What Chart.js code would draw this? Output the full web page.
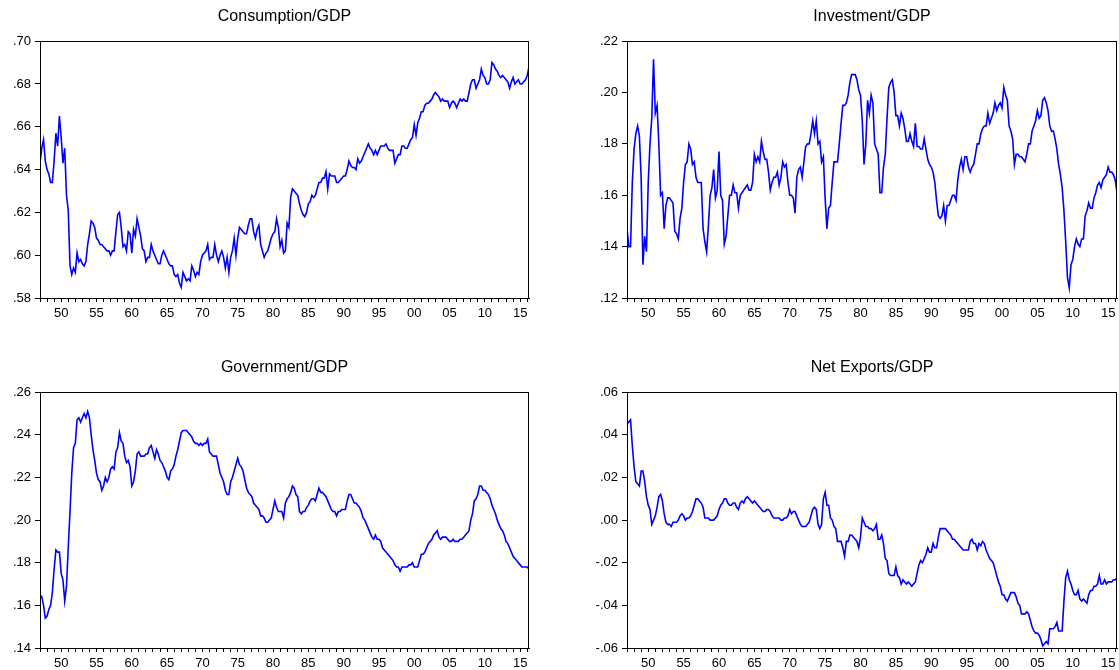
<!DOCTYPE html>
<html>
<head>
<meta charset="utf-8">
<script src="https://cdn.jsdelivr.net/npm/chart.js@4.4.0/dist/chart.umd.min.js"></script>
<style>
  html, body { margin: 0; padding: 0; background: #fff; overflow: hidden; }
  #wrap { position: relative; width: 1119px; height: 670px; overflow: hidden; }
  #wrap canvas { position: absolute; }
</style>
</head>
<body>
<div id="wrap">
  <canvas id="c1" width="569" height="335" style="left:0;top:0"></canvas>
  <canvas id="c2" width="570" height="335" style="left:587px;top:0"></canvas>
  <canvas id="c3" width="569" height="319" style="left:0;top:351px"></canvas>
  <canvas id="c4" width="570" height="319" style="left:587px;top:351px"></canvas>
</div>
<script>
// quarterly data, 1947Q1 - 2016Q2, one row per year
const startYear = 1947;

const consumption = [
  .643,.650,.654,.644, .640,.638,.634,.634, .644,.657,.651,.665, .655,.643,.650,.628,
  .621,.595,.591,.594, .592,.601,.597,.598, .596,.595,.597,.605, .610,.616,.615,.613,
  .608,.607,.605,.605, .604,.603,.602,.602, .600,.602,.602,.611, .619,.620,.613,.604,
  .605,.602,.611,.610, .601,.612,.609,.617, .613,.609,.603,.602, .597,.599,.599,.605,
  .602,.600,.598,.596, .596,.600,.602,.600, .598,.596,.595,.595, .591,.590,.591,.587,
  .585,.592,.590,.588, .589,.588,.595,.593, .590,.592,.591,.597, .600,.601,.602,.605,
  .598,.599,.599,.605, .600,.597,.600,.602, .599,.594,.599,.592, .599,.602,.608,.600,
  .608,.613,.612,.611, .610,.610,.614,.617, .617,.611,.608,.612, .614,.605,.602,.599,
  .601,.602,.605,.608, .610,.611,.617,.613, .604,.607,.601,.602, .615,.613,.627,.631,
  .630,.629,.628,.624, .621,.619,.618,.620, .624,.625,.628,.627, .628,.631,.634,.634,
  .636,.636,.639,.631, .638,.637,.637,.637, .634,.634,.635,.636, .637,.637,.640,.644,
  .642,.641,.641,.640, .645,.643,.644,.646, .648,.650,.652,.650, .649,.647,.649,.647,
  .649,.651,.651,.651, .652,.650,.649,.649, .649,.643,.645,.647, .647,.651,.651,.650,
  .650,.652,.654,.655, .661,.656,.662,.664, .667,.667,.670,.671, .671,.672,.673,.675,
  .676,.675,.674,.672, .673,.672,.672,.672, .669,.671,.672,.671, .669,.671,.673,.672,
  .673,.672,.672,.676, .680,.682,.682,.678, .680,.682,.687,.684, .683,.680,.680,.682,
  .690,.689,.687,.686, .684,.683,.684,.683, .682,.681,.678,.681, .683,.680,.681,.682,
  .680,.680,.681,.682, .684,.688
];

const investment = [
  .147,.140,.140,.165, .178,.184,.187,.183, .167,.133,.144,.138, .165,.180,.190,.213,
  .192,.195,.180,.160, .161,.147,.156,.159, .159,.158,.157,.146, .145,.143,.151,.155,
  .165,.172,.173,.180, .178,.172,.173,.167, .165,.165,.165,.147, .142,.138,.148,.160,
  .163,.170,.159,.162, .177,.160,.158,.141, .144,.152,.160,.160, .164,.161,.161,.155,
  .160,.161,.162,.163, .164,.162,.162,.165, .176,.173,.175,.173, .181,.177,.174,.174,
  .169,.162,.165,.167, .167,.169,.164,.167, .173,.171,.172,.165, .160,.160,.159,.153,
  .167,.170,.171,.167, .173,.179,.180,.180, .184,.189,.184,.189, .180,.181,.173,.175,
  .159,.147,.155,.156, .165,.173,.173,.173, .180,.188,.195,.195, .196,.199,.204,.207,
  .207,.207,.205,.201, .199,.189,.172,.180, .197,.192,.199,.196, .180,.178,.176,.161,
  .161,.171,.176,.190, .202,.204,.205,.200, .191,.191,.187,.192, .190,.186,.181,.181,
  .184,.181,.179,.188, .179,.179,.178,.178, .182,.178,.174,.172, .171,.169,.165,.158,
  .152,.151,.152,.156, .150,.156,.156,.158, .160,.160,.158,.166, .171,.174,.170,.175,
  .175,.171,.169,.171, .172,.176,.180,.180, .184,.186,.187,.187, .192,.188,.190,.192,
  .196,.193,.195,.196, .194,.202,.199,.197, .187,.185,.182,.172, .176,.176,.175,.175,
  .174,.173,.176,.180, .180,.185,.187,.189, .193,.190,.191,.197, .198,.196,.193,.187,
  .185,.185,.182,.178, .172,.168,.163,.154, .142,.128,.124,.133, .135,.140,.143,.141,
  .140,.143,.143,.152, .154,.157,.155,.155, .159,.161,.164,.165, .163,.166,.167,.168,
  .171,.169,.169,.168, .166,.161
];

const government = [
  .165,.164,.160,.154, .155,.158,.160,.166, .177,.186,.185,.185, .175,.172,.162,.169,
  .187,.204,.222,.234, .236,.247,.248,.246, .248,.250,.248,.251, .248,.240,.233,.228,
  .222,.219,.218,.214, .216,.220,.218,.220, .224,.225,.224,.232, .234,.241,.237,.236,
  .230,.227,.228,.225, .216,.218,.223,.231, .232,.230,.230,.230, .231,.231,.234,.235,
  .232,.229,.233,.231, .228,.227,.225,.223, .220,.219,.223,.224, .226,.230,.233,.237,
  .241,.242,.242,.242, .241,.240,.239,.237, .236,.236,.235,.236, .235,.236,.236,.238,
  .232,.231,.230,.230, .230,.226,.222,.220, .218,.214,.212,.212, .218,.220,.223,.226,
  .229,.226,.225,.223, .219,.215,.213,.212, .211,.208,.207,.206, .205,.202,.202,.201,
  .199,.199,.200,.201, .205,.209,.206,.204, .204,.204,.201,.208, .210,.211,.213,.216,
  .215,.212,.211,.204, .203,.204,.204,.206, .207,.209,.210,.210, .209,.212,.215,.213,
  .213,.212,.211,.209, .207,.205,.204,.204, .202,.204,.204,.205, .205,.205,.209,.212,
  .212,.210,.208,.208, .207,.206,.204,.201, .200,.198,.196,.194, .192,.191,.193,.191,
  .191,.190,.187,.186, .185,.184,.183,.182, .181,.179,.178,.178, .176,.178,.178,.178,
  .178,.179,.179,.180, .178,.178,.178,.181, .184,.184,.185,.187, .189,.190,.191,.193,
  .194,.195,.192,.191, .192,.192,.192,.191, .190,.190,.191,.190, .190,.190,.191,.191,
  .192,.193,.194,.195, .200,.203,.209,.210, .212,.216,.216,.214, .214,.213,.212,.210,
  .207,.205,.203,.200, .198,.196,.195,.193, .190,.189,.187,.185, .183,.182,.181,.180,
  .179,.178,.178,.178, .178,.177
];

const netExports = [
  .045,.046,.047,.035, .025,.018,.017,.016, .023,.023,.018,.011, .007,.005,-.002,.000,
  .002,.006,.011,.012, .009,.003,-.001,-.002, -.002,-.003,-.001,-.001, -.001,.000,.002,.003,
  .002,.000,.001,.001, .002,.004,.007,.010, .010,.009,.008,.006, .001,.001,.001,.000,
  .000,.000,.001,.002, .005,.007,.008,.010, .010,.008,.007,.007, .008,.008,.006,.005,
  .008,.009,.008,.010, .011,.010,.009,.008, .009,.008,.007,.006, .005,.004,.004,.005,
  .005,.004,.002,.001, .001,.001,.001,.000, .000,.001,.001,.002, .005,.003,.004,.004,
  .002,.000,-.002,-.003, -.003,-.003,-.002,-.001, .002,.005,.006,.005, -.002,-.004,-.002,.010,
  .013,.007,.007,.001, .000,-.003,-.004,-.010, -.010,-.010,-.013,-.017, -.010,-.010,-.007,-.007,
  -.008,-.009,-.010,-.013, -.008,.001,-.001,-.003, -.003,-.004,-.004,-.005, -.004,-.002,-.009,-.009,
  -.007,-.011,-.018,-.019, -.025,-.026,-.026,-.026, -.022,-.026,-.027,-.030, -.028,-.029,-.030,-.029,
  -.030,-.031,-.030,-.029, -.025,-.021,-.019,-.020, -.018,-.016,-.013,-.015, -.015,-.011,-.013,-.013,
  -.008,-.004,-.004,-.004, -.004,-.005,-.006,-.007, -.009,-.009,-.010,-.011, -.012,-.013,-.014,-.014,
  -.014,-.014,-.010,-.009, -.011,-.011,-.014,-.011, -.012,-.010,-.011,-.014, -.016,-.018,-.019,-.020,
  -.023,-.026,-.029,-.031, -.035,-.035,-.037,-.038, -.036,-.034,-.034,-.034, -.036,-.039,-.040,-.044,
  -.044,-.044,-.043,-.044, -.047,-.050,-.052,-.053, -.053,-.054,-.056,-.059, -.058,-.057,-.058,-.051,
  -.051,-.051,-.050,-.048, -.052,-.052,-.052,-.038, -.027,-.024,-.028,-.030, -.033,-.035,-.035,-.033,
  -.037,-.038,-.037,-.038, -.039,-.035,-.033,-.033, -.031,-.031,-.030,-.026, -.030,-.030,-.028,-.030,
  -.029,-.029,-.029,-.028, -.028,-.027
];

const titles = ['Consumption/GDP', 'Investment/GDP', 'Government/GDP', 'Net Exports/GDP'];
const yMin = [.58, .12, .14, -.06];
const yMax = [.70, .22, .26, .06];
const series = [consumption, investment, government, netExports];

const FONT = "'Liberation Sans', Arial, Helvetica, sans-serif";
Chart.defaults.font.family = FONT;
Chart.defaults.color = '#000';

// box round the plot area, like EViews
const framePlugin = {
  id: 'frame',
  afterDraw(chart) {
    const a = chart.chartArea;
    const ctx = chart.ctx;
    ctx.save();
    ctx.strokeStyle = '#000';
    ctx.lineWidth = 1;
    ctx.strokeRect(Math.round(a.left) + 0.5, Math.round(a.top) + 0.5,
                   Math.round(a.right - a.left) - 1, Math.round(a.bottom - a.top));
    ctx.restore();
  }
};

function fmtY(v) {
  const s = (Math.round(v * 100) / 100).toFixed(2);
  return s.replace('0.', '.');
}

function makeChart(idx, axisHeight) {
  const values = series[idx];
  const points = values.map((v, i) => ({ x: startYear + i / 4, y: v }));
  const ctx = document.getElementById('c' + (idx + 1)).getContext('2d');
  return new Chart(ctx, {
    type: 'line',
    data: {
      datasets: [{
        data: points,
        borderColor: '#0000ff',
        borderWidth: 1.6,
        pointRadius: 0,
        tension: 0,
        fill: false
      }]
    },
    options: {
      responsive: false,
      animation: false,
      layout: { padding: 0 },
      plugins: {
        legend: { display: false },
        tooltip: { enabled: false },
        title: {
          display: true,
          text: titles[idx],
          color: '#000',
          font: { size: 16, weight: 'normal', family: FONT },
          padding: { top: 7, bottom: 15 }
        }
      },
      scales: {
        x: {
          type: 'linear',
          min: startYear,
          max: 2016.25,
          border: { display: true, color: '#000', width: 1 },
          grid: { drawOnChartArea: false, drawTicks: true, tickLength: 4, color: '#000' },
          ticks: {
            stepSize: 1,
            autoSkip: false,
            includeBounds: false,
            maxRotation: 0,
            minRotation: 0,
            padding: 4,
            font: { size: 13 },
            color: '#000',
            callback: v => (Number.isInteger(v) && v % 5 === 0) ? String(v % 100).padStart(2, '0') : ''
          },
          afterFit: s => { s.height = axisHeight; }
        },
        y: {
          type: 'linear',
          min: yMin[idx],
          max: yMax[idx],
          border: { display: true, color: '#000', width: 1 },
          grid: { drawOnChartArea: false, drawTicks: true, tickLength: 5, color: '#000' },
          ticks: {
            stepSize: 0.02,
            padding: 4,
            font: { size: 13 },
            color: '#000',
            callback: v => fmtY(v)
          },
          afterFit: s => { s.width = 40; }
        },
        // empty right-hand axis so the title centres over the plot
        yPad: {
          type: 'linear',
          position: 'right',
          display: true,
          border: { display: false },
          grid: { display: false, drawTicks: false },
          ticks: { display: false },
          afterFit: s => { s.width = 40; }
        }
      }
    },
    plugins: [framePlugin]
  });
}

makeChart(0, 37);
makeChart(1, 37);
makeChart(2, 22);
makeChart(3, 22);
</script>
</body>
</html>
